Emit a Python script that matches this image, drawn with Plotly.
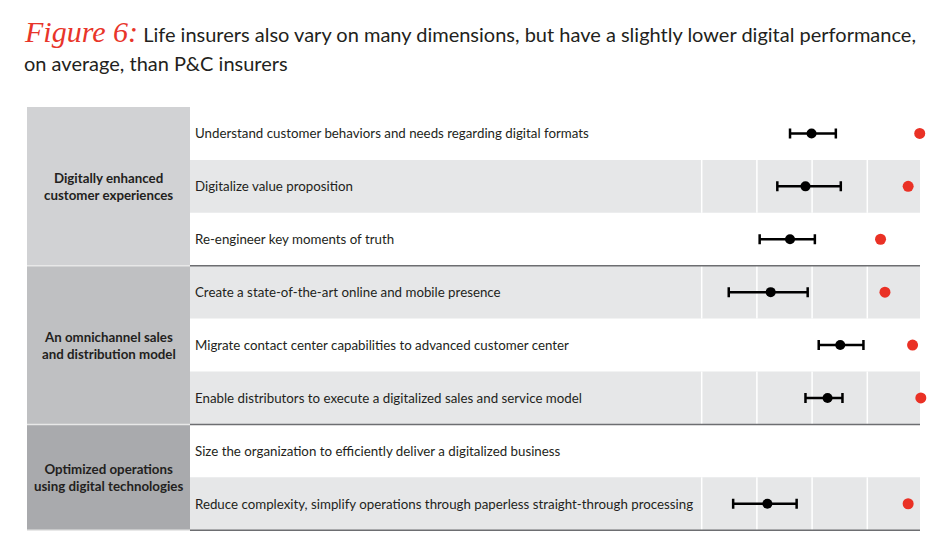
import plotly.graph_objects as go

# ---------------- data ----------------
rows = [
    "Understand customer behaviors and needs regarding digital formats",
    "Digitalize value proposition",
    "Re-engineer key moments of truth",
    "Create a state-of-the-art online and mobile presence",
    "Migrate contact center capabilities to advanced customer center",
    "Enable distributors to execute a digitalized sales and service model",
    "Size the organization to efficiently deliver a digitalized business",
    "Reduce complexity, simplify operations through paperless straight-through processing",
]
life_avg = [2.99, 2.88, 2.60, 2.25, 3.51, 3.28, None, 2.19]
life_low = [2.60, 2.37, 2.05, 1.49, 3.12, 2.88, None, 1.57]
life_high = [3.43, 3.52, 3.05, 2.92, 3.93, 3.55, None, 2.72]
pc_avg = [4.95, 4.74, 4.24, 4.32, 4.82, 4.97, None, 4.74]

groups = [
    "Digitally enhanced<br>customer experiences",
    "An omnichannel sales<br>and distribution model",
    "Optimized operations<br>using digital technologies",
]
group_first = [0, 3, 6]
group_last = [2, 5, 7]
group_colors = ["#d1d2d4", "#bfc0c2", "#a9aaad"]
grid_vals = [1, 2, 3, 4]

W, H = 950, 539
FONT = "Lato"

fig = go.Figure()

idx = [i for i, v in enumerate(life_avg) if v is not None]
fig.add_trace(go.Scatter(
    x=[life_avg[i] for i in idx],
    y=idx,
    mode="markers",
    marker=dict(color="black", size=10),
    error_x=dict(type="data", symmetric=False,
                 array=[life_high[i] - life_avg[i] for i in idx],
                 arrayminus=[life_avg[i] - life_low[i] for i in idx],
                 color="black", thickness=2.5, width=5),
    showlegend=False, hoverinfo="skip",
))
idx2 = [i for i, v in enumerate(pc_avg) if v is not None]
fig.add_trace(go.Scatter(
    x=[pc_avg[i] for i in idx2],
    y=idx2,
    mode="markers",
    marker=dict(color="#ea3125", size=11),
    showlegend=False, hoverinfo="skip",
))

shapes = []
x_left = 27 / W
x_mid = 190 / W
x_right = 920 / W
# row bands
for i in range(len(rows)):
    if i % 2 == 1:
        shapes.append(dict(type="rect", xref="paper", yref="y", x0=x_mid, x1=x_right,
                           y0=i - 0.5, y1=i + 0.5, fillcolor="#e6e7e8",
                           line=dict(width=0), layer="below"))
        for g in grid_vals:
            shapes.append(dict(type="line", xref="x", yref="y", x0=g, x1=g,
                               y0=i - 0.5, y1=i + 0.5,
                               line=dict(color="white", width=1.5), layer="below"))
# group panels
for k in range(len(groups)):
    shapes.append(dict(type="rect", xref="paper", yref="y", x0=x_left, x1=x_mid,
                       y0=group_first[k] - 0.5, y1=group_last[k] + 0.5,
                       fillcolor=group_colors[k], line=dict(width=0), layer="below"))
# separators
for k in range(len(groups)):
    yb = group_last[k] + 0.5
    shapes.append(dict(type="line", xref="paper", yref="y", x0=x_left, x1=x_mid,
                       y0=yb, y1=yb, line=dict(color="#e8e8e8", width=1.5)))
    shapes.append(dict(type="line", xref="paper", yref="y", x0=x_mid, x1=x_right,
                       y0=yb, y1=yb, line=dict(color="#6d6e71", width=1.5)))

annotations = []
for i, r in enumerate(rows):
    annotations.append(dict(text=r, xref="paper", yref="y", x=193 / W, y=i,
                            xanchor="left", yanchor="middle", showarrow=False,
                            font=dict(family=FONT, size=13.3, color="#231f20")))
for k, g in enumerate(groups):
    annotations.append(dict(text="<b>" + g + "</b>", xref="paper", yref="y",
                            x=(27 + 190) / 2 / W, y=(group_first[k] + group_last[k]) / 2,
                            xanchor="center", yanchor="middle", showarrow=False, align="center",
                            font=dict(family=FONT, size=13.3, color="#231f20")))
annotations.append(dict(
    text='<span style="font-family:\'Liberation Serif\';font-style:italic;color:#e8352a;font-size:30px">Figure 6:</span> Life insurers also vary on many dimensions, but have a slightly lower digital performance,',
    xref="paper", yref="paper", x=22 / W, y=1 - 31 / H, xanchor="left", yanchor="middle",
    showarrow=False, font=dict(family=FONT, size=20, color="#231f20")))
annotations.append(dict(
    text="on average, than P&C insurers",
    xref="paper", yref="paper", x=22 / W, y=1 - 63 / H, xanchor="left", yanchor="middle",
    showarrow=False, font=dict(family=FONT, size=20, color="#231f20")))

# pixel mapping: gridline value 1 at x=701.7px, 55.2px per unit; row i centered at 133.45 + 52.9*i px
px0, ppu = 701.7, 55.2
xr = [1 - px0 / ppu, 1 + (W - px0) / ppu]
ry0, rpp = 133.45, 52.9
yr = [(H - ry0) / rpp, -ry0 / rpp]

fig.update_layout(
    width=W, height=H,
    margin=dict(l=0, r=0, t=0, b=0),
    paper_bgcolor="white", plot_bgcolor="white",
    xaxis=dict(range=xr, visible=False, fixedrange=True),
    yaxis=dict(range=yr, visible=False, fixedrange=True),
    shapes=shapes, annotations=annotations,
)

fig.write_html("out.html")
